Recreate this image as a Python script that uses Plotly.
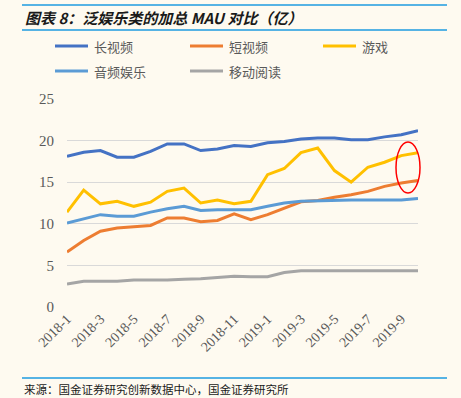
import plotly.graph_objects as go

months = [f"2018-{m}" for m in range(1, 13)] + [f"2019-{m}" for m in range(1, 11)]
tick_labels = months[::2]

long_video = [18.1, 18.6, 18.8, 18.0, 18.0, 18.7, 19.6, 19.6, 18.8, 19.0, 19.4,
              19.3, 19.75, 19.9, 20.2, 20.3, 20.3, 20.1, 20.1, 20.45, 20.7, 21.2]
short_video = [6.6, 8.0, 9.1, 9.5, 9.65, 9.8, 10.7, 10.7, 10.25, 10.4, 11.2,
               10.5, 11.1, 11.9, 12.65, 12.8, 13.2, 13.5, 13.9, 14.5, 14.9, 15.2]
games = [11.4, 14.05, 12.4, 12.7, 12.1, 12.6, 13.9, 14.3, 12.5, 12.85, 12.4,
         12.7, 15.9, 16.65, 18.55, 19.1, 16.4, 15.0, 16.8, 17.4, 18.2, 18.55]
audio = [10.1, 10.6, 11.1, 10.9, 10.9, 11.4, 11.8, 12.1, 11.6, 11.7, 11.7,
         11.7, 12.1, 12.5, 12.7, 12.75, 12.85, 12.85, 12.85, 12.85, 12.85, 13.05]
reading = [2.75, 3.1, 3.1, 3.1, 3.25, 3.25, 3.25, 3.35, 3.4, 3.55, 3.7,
           3.65, 3.65, 4.15, 4.35, 4.35, 4.35, 4.35, 4.35, 4.35, 4.35, 4.35]

series = [
    ("长视频", long_video, "#4472C4"),
    ("短视频", short_video, "#ED7D31"),
    ("游戏", games, "#FFC000"),
    ("音频娱乐", audio, "#5B9BD5"),
    ("移动阅读", reading, "#A5A5A5"),
]

W, H = 461, 398
L, R, T, B = 67, 418, 99, 307
BG = "#FEFAF0"
CJK = "Noto Sans CJK SC"
SERIF = "Liberation Serif, Times New Roman, serif"


def px(x):
    return (x - L) / (R - L)


def py(y):
    return (B - y) / (B - T)


fig = go.Figure()
for name, vals, color in series:
    fig.add_trace(go.Scatter(x=months, y=vals, mode="lines", name=name,
                             line=dict(color=color, width=3), showlegend=False))

shapes = []
annotations = []
# title bars
for yy in (5, 30):
    shapes.append(dict(type="line", xref="paper", yref="paper", x0=px(22), x1=px(447),
                       y0=py(yy), y1=py(yy), line=dict(color="#1E9BE0", width=1.5)))
shapes.append(dict(type="line", xref="paper", yref="paper", x0=px(22), x1=px(447),
                   y0=py(378), y1=py(378), line=dict(color="#1E9BE0", width=1.5)))
annotations.append(dict(xref="paper", yref="paper", x=px(23), y=py(17), xanchor="left",
                        yanchor="middle", showarrow=False,
                        text="<b><i>图表 8：泛娱乐类的加总 MAU 对比（亿）</i></b>",
                        font=dict(family=CJK, size=15, color="#1a1a1a")))
annotations.append(dict(xref="paper", yref="paper", x=px(22), y=py(389), xanchor="left",
                        yanchor="middle", showarrow=False,
                        text="来源：国金证券研究创新数据中心，国金证券研究所",
                        font=dict(family=CJK, size=11.5, color="#1a1a1a")))

# legend
leg_pos = [(55, 46), (190, 46), (323, 46), (55, 71), (190, 71)]
for (name, vals, color), (lx, ly) in zip(series, leg_pos):
    shapes.append(dict(type="line", xref="paper", yref="paper", x0=px(lx), x1=px(lx + 33),
                       y0=py(ly), y1=py(ly), line=dict(color=color, width=3)))
    annotations.append(dict(xref="paper", yref="paper", x=px(lx + 37), y=py(ly),
                            xanchor="left", yanchor="middle", showarrow=False, text=name,
                            font=dict(family=CJK, size=13, color="#595959")))

# red ellipse highlight
shapes.append(dict(type="circle", xref="paper", yref="paper", x0=px(396), x1=px(420),
                   y0=py(193), y1=py(142), line=dict(color="#FF0000", width=1.5)))

fig.update_layout(
    width=W, height=H,
    margin=dict(l=L, r=W - R, t=T, b=H - B),
    paper_bgcolor=BG, plot_bgcolor=BG,
    shapes=shapes, annotations=annotations,
    xaxis=dict(type="category", tickmode="array", tickvals=tick_labels, ticktext=tick_labels,
               tickangle=-45, showgrid=False, showline=False, ticks="",
               tickfont=dict(family=SERIF, size=14, color="#595959")),
    yaxis=dict(range=[0, 25], tickvals=[0, 5, 10, 15, 20, 25], showgrid=True,
               gridcolor="#D9D9D9", gridwidth=1, zeroline=False, showline=False, ticks="",
               ticklabelstandoff=12,
               tickfont=dict(family=SERIF, size=15, color="#595959")),
)

fig.write_html("out.html", config={"displayModeBar": False},
               post_script="document.body.style.margin='0';document.body.style.background='%s';" % BG)
